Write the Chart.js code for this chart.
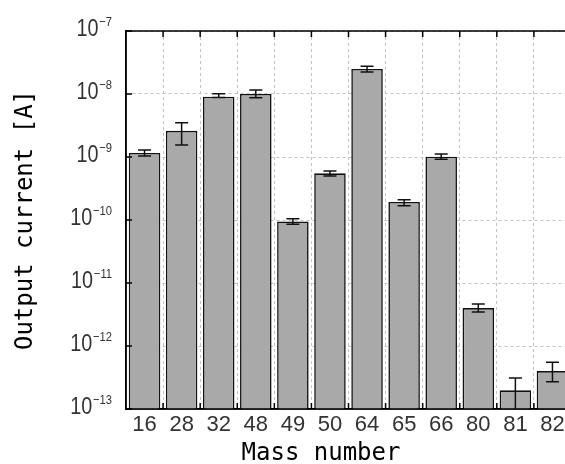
<!DOCTYPE html>
<html><head><meta charset="utf-8">
<script src="https://cdn.jsdelivr.net/npm/chart.js@4/dist/chart.umd.min.js"></script>
<style>html,body{margin:0;padding:0;background:#fff;overflow:hidden;}#wrap{width:585px;height:464px;}</style>
</head><body><div id="wrap"><canvas id="c" width="585" height="464"></canvas></div>
<script>
const massNumbers = ['16','28','32','48','49','50','64','65','66','80','81','82'];
const outputCurrent = [1.16e-9, 2.6e-9, 9.05e-9, 1.0e-8, 9.5e-11, 5.5e-10, 2.5e-8, 1.93e-10, 1.01e-9, 4.0e-12, 1.98e-13, 4.0e-13];
const errorLow  = [1.04e-9, 1.55e-9, 8.8e-9, 8.7e-9, 8.6e-11, 5.0e-10, 2.23e-8, 1.69e-10, 9.2e-10, 3.47e-12, 5e-14, 2.7e-13];
const errorHigh = [1.29e-9, 3.5e-9, 1.01e-8, 1.16e-8, 1.05e-10, 6.0e-10, 2.75e-8, 2.1e-10, 1.12e-9, 4.65e-12, 3.1e-13, 5.5e-13];
const yTickExponents = [-13, -12, -11, -10, -9, -8, -7];
const xTitle = 'Mass number';
const yTitle = 'Output current [A]';

const LABEL_FONT = "'Liberation Sans', Arial, sans-serif";
const MONO_FONT = "'DejaVu Sans Mono', 'Liberation Mono', monospace";

const decor = {
  id: 'decor',
  afterDatasetsDraw(chart) {
    const {ctx, chartArea: a, scales: {x, y}} = chart;
    ctx.save();
    ctx.beginPath(); ctx.rect(a.left, a.top, a.right - a.left, a.bottom - a.top); ctx.clip();
    ctx.strokeStyle = '#111'; ctx.lineWidth = 1.5;
    massNumbers.forEach((m, i) => {
      const cx = x.getPixelForValue(i);
      const yl = y.getPixelForValue(errorLow[i]);
      const yh = y.getPixelForValue(errorHigh[i]);
      ctx.beginPath();
      ctx.moveTo(cx, yl); ctx.lineTo(cx, yh);
      ctx.moveTo(cx - 6.5, yl); ctx.lineTo(cx + 6.5, yl);
      ctx.moveTo(cx - 6.5, yh); ctx.lineTo(cx + 6.5, yh);
      ctx.stroke();
    });
    ctx.restore();
  },
  afterDraw(chart) {
    const {ctx, chartArea: a, scales: {x, y}} = chart;
    ctx.save();
    // frame
    ctx.strokeStyle = '#000'; ctx.lineWidth = 1.5;
    ctx.strokeRect(a.left, a.top, a.right - a.left, a.bottom - a.top);
    // inner tick marks
    ctx.beginPath();
    const n = massNumbers.length;
    const w = (a.right - a.left) / n;
    for (let i = 1; i < n; i++) {
      const px = a.left + i * w;
      ctx.moveTo(px, a.bottom); ctx.lineTo(px, a.bottom - 6);
      ctx.moveTo(px, a.top); ctx.lineTo(px, a.top + 6);
    }
    yTickExponents.forEach(e => {
      const py = y.getPixelForValue(Math.pow(10, e));
      ctx.moveTo(a.left, py); ctx.lineTo(a.left + 6, py);
    });
    ctx.stroke();
    // y tick labels with superscript (horizontally condensed)
    ctx.fillStyle = '#333';
    const rightEdge = a.left - 14;
    const sx = 0.86;
    yTickExponents.forEach(e => {
      const py = y.getPixelForValue(Math.pow(10, e));
      const sup = '\u2212' + Math.abs(e);
      ctx.save();
      ctx.translate(rightEdge, 0);
      ctx.scale(sx, 1);
      ctx.font = "13px " + LABEL_FONT;
      const sw = ctx.measureText(sup).width;
      ctx.textAlign = 'left'; ctx.textBaseline = 'alphabetic';
      ctx.fillText(sup, -sw, py - 5.5);
      ctx.font = '23px ' + LABEL_FONT;
      ctx.textAlign = 'right';
      ctx.fillText('10', -sw - 1, py + 4.5);
      ctx.restore();
    });
    // x title
    ctx.font = '24px ' + MONO_FONT;
    ctx.fillStyle = '#000';
    ctx.textAlign = 'center'; ctx.textBaseline = 'alphabetic';
    ctx.fillText(xTitle, 321, 459.5);
    ctx.restore();
  }
};

new Chart(document.getElementById('c'), {
  type: 'bar',
  data: {
    labels: massNumbers,
    datasets: [{
      data: outputCurrent,
      backgroundColor: '#a9a9a9',
      borderColor: '#111',
      borderWidth: 1.6,
      barPercentage: 0.85,
      categoryPercentage: 1.0
    }]
  },
  options: {
    responsive: false,
    animation: false,
    devicePixelRatio: 1,
    layout: {padding: {top: 31, right: 14, left: 0, bottom: 0}},
    plugins: {legend: {display: false}, tooltip: {enabled: false}},
    scales: {
      x: {
        type: 'category',
        offset: true,
        grid: {offset: true, color: '#c2c2c2', lineWidth: 1, drawTicks: false},
        border: {display: true, color: '#000', width: 1.5, dash: [3, 3]},
        ticks: {font: {family: LABEL_FONT, size: 22}, color: '#333', padding: 3, maxRotation: 0, autoSkip: false},
        afterFit(s) { s.height = 55; }
      },
      y: {
        type: 'logarithmic',
        min: 1e-13,
        max: 1e-7,
        afterBuildTicks(s) { s.ticks = yTickExponents.map(e => ({value: Math.pow(10, e)})); },
        grid: {color: '#c2c2c2', lineWidth: 1, drawTicks: false},
        border: {display: true, color: '#000', width: 1.5, dash: [3, 3]},
        ticks: {display: false},
        title: {display: true, text: yTitle, color: '#000', font: {family: MONO_FONT, size: 24}, padding: {top: 11, bottom: 0}},
        afterFit(s) { s.width = 126; }
      }
    }
  },
  plugins: [decor]
});
</script>
</body></html>
